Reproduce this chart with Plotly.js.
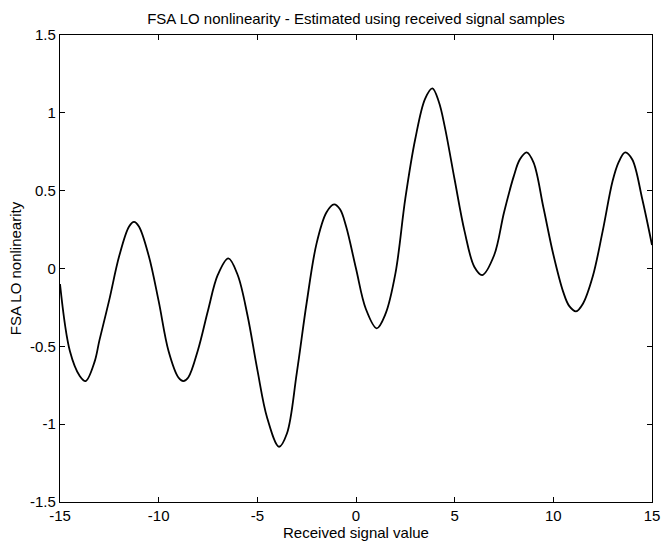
<!DOCTYPE html>
<html>
<head>
<meta charset="utf-8">
<script src="https://cdn.plot.ly/plotly-3.0.1.min.js"></script>
<style>
  html, body { margin: 0; padding: 0; background: #fff; }
  #chart { width: 663px; height: 543px; }
</style>
</head>
<body>
<div id="chart"></div>
<script>
// Values
const signalValue = [
  -15, -14.5, -14.0, -13.7, -13.25, -13.0, -12.5, -12.0, -11.5, -11.25,
  -11.0, -10.5, -10.0, -9.5, -9.0, -8.75, -8.5, -8.0, -7.5, -7.0,
  -6.47, -6.0, -5.5, -5.0, -4.5, -3.9, -3.5, -3.0, -2.5, -2.0,
  -1.5, -1.11, -0.81, -0.5, 0.0, 0.5, 1.05, 1.5, 2.0, 2.5,
  3.0, 3.5, 3.87, 4.2, 4.5, 5.0, 5.5, 6.0, 6.4, 7.0,
  7.5, 8.0, 8.3, 8.65, 9.0, 9.5, 10.0, 10.5, 10.8, 11.15,
  11.5, 12.0, 12.5, 13.0, 13.3, 13.64, 14.0, 14.5, 15.0
];
const nonlinearity = [
  -0.10, -0.53, -0.69, -0.723, -0.60, -0.46, -0.20, 0.08, 0.27, 0.30,
  0.27, 0.08, -0.21, -0.53, -0.70, -0.723, -0.70, -0.52, -0.27, -0.04,
  0.065, -0.04, -0.30, -0.65, -0.96, -1.145, -1.06, -0.67, -0.22, 0.16,
  0.36, 0.412, 0.38, 0.27, 0.0, -0.26, -0.384, -0.29, -0.03, 0.45,
  0.83, 1.09, 1.157, 1.07, 0.91, 0.57, 0.24, 0.01, -0.042, 0.085,
  0.36, 0.595, 0.70, 0.746, 0.68, 0.39, 0.09, -0.15, -0.24, -0.275,
  -0.226, -0.05, 0.24, 0.56, 0.68, 0.746, 0.70, 0.45, 0.151
];
const xTickVals = [-15, -10, -5, 0, 5, 10, 15];
const xTickText = ["-15", "-10", "-5", "0", "5", "10", "15"];
const yTickVals = [-1.5, -1, -0.5, 0, 0.5, 1, 1.5];
const yTickText = ["-1.5", "-1", "-0.5", "0", "0.5", "1", "1.5"];

const font = "Liberation Sans, Arial, Helvetica, sans-serif";

const trace = {
  x: signalValue,
  y: nonlinearity,
  type: "scatter",
  mode: "lines",
  line: { color: "#000", width: 1.8, shape: "spline", smoothing: 1 },
  hoverinfo: "skip"
};

const axisCommon = {
  showgrid: false,
  zeroline: false,
  showline: true,
  mirror: "ticks",
  linecolor: "#000",
  linewidth: 1.2,
  ticks: "inside",
  ticklen: 5,
  tickwidth: 1,
  tickcolor: "#000",
  tickfont: { family: font, size: 15, color: "#000" },
  tickmode: "array",
  automargin: false
};

const layout = {
  width: 663,
  height: 543,
  margin: { l: 60, r: 11, t: 35, b: 41 },
  paper_bgcolor: "#fff",
  plot_bgcolor: "#fff",
  showlegend: false,
  title: {
    text: "FSA LO nonlinearity - Estimated using received signal samples",
    font: { family: font, size: 15, color: "#000" },
    x: 0.537, xanchor: "center",
    y: 0.966, yanchor: "middle"
  },
  xaxis: Object.assign({}, axisCommon, {
    range: [-15, 15],
    tickvals: xTickVals,
    ticktext: xTickText,
    title: { text: "Received signal value", font: { family: font, size: 15, color: "#000" }, standoff: 0 }
  }),
  yaxis: Object.assign({}, axisCommon, {
    range: [-1.5, 1.5],
    tickvals: yTickVals,
    ticktext: yTickText,
    title: { text: "FSA LO nonlinearity", font: { family: font, size: 15, color: "#000" }, standoff: 4 }
  })
};

Plotly.newPlot("chart", [trace], layout, { displayModeBar: false, staticPlot: true });
</script>
</body>
</html>
